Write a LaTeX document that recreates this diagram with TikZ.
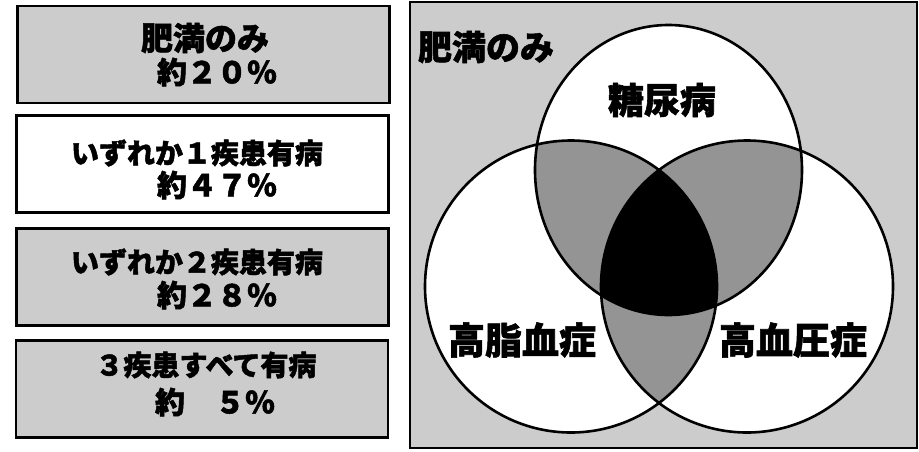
\documentclass[tikz,border=0pt]{standalone}
\usepackage{fontspec}
\newfontfamily\jp{Noto Sans CJK JP}[BoldFeatures={FakeBold=1.6}]
\tikzset{
  stipple/.style={fill=black!20},
  darkstipple/.style={fill=black!42},
  boxbase/.style={draw, line width=2.6pt, minimum width=372pt, minimum height=97pt, inner sep=0pt},
  graybox/.style={boxbase, stipple},
  whitebox/.style={boxbase, fill=white},
  boxtxt/.style={inner sep=0pt, font=\jp\bfseries\fontsize{28}{30}\selectfont},
  pcttxt/.style={inner sep=0pt, font=\jp\bfseries\fontsize{30}{32}\selectfont},
  venntxt/.style={inner sep=0pt, font=\jp\bfseries\fontsize{36}{38}\selectfont},
  ring/.style={draw, line width=2.6pt}
}
\begin{document}
\begin{tikzpicture}[x=1pt,y=-1pt]
\useasboundingbox (0,0) rectangle (919,451);
\fill[white] (0,0) rectangle (919,451);

% left boxes
\node[graybox]  (b1) at (203.5,54.5) {};
\node[whitebox] (b2) at (202.5,164) {};
\node[graybox]  (b3) at (202.5,277) {};
\node[graybox]  (b4) at (202,389) {};

\node[boxtxt, font=\jp\bfseries\fontsize{32}{34}\selectfont] (t1a) at (205,38) {肥満のみ};
\node[pcttxt] (t1b) at (217,72) {約２０％};
\node[boxtxt] (t2a) at (197,153) {いずれか１疾患有病};
\node[pcttxt] (t2b) at (217,185) {約４７％};
\node[boxtxt] (t3a) at (197,262) {いずれか２疾患有病};
\node[pcttxt] (t3b) at (217,295) {約２８％};
\node[boxtxt] (t4a) at (206,365) {３疾患すべて有病};
\node[pcttxt] (t4b) at (215,402) {約　５％};

% right panel
\node[draw, line width=2pt, stipple, minimum width=507pt, minimum height=446pt, inner sep=0pt] (panel) at (663.5,225) {};

\coordinate (cT) at (668.5,170);
\coordinate (cL) at (571,286.5);
\coordinate (cR) at (747,286.5);

\fill[white] (cT) ellipse [x radius=133.5pt, y radius=145pt];
\fill[white] (cL) circle [radius=146pt];
\fill[white] (cR) circle [radius=146pt];

\begin{scope}
  \clip (cT) ellipse [x radius=133.5pt, y radius=145pt];
  \fill[darkstipple] (cL) circle [radius=146pt];
  \fill[darkstipple] (cR) circle [radius=146pt];
\end{scope}
\begin{scope}
  \clip (cL) circle [radius=146pt];
  \fill[darkstipple] (cR) circle [radius=146pt];
\end{scope}
\begin{scope}
  \clip (cT) ellipse [x radius=133.5pt, y radius=145pt];
  \clip (cL) circle [radius=146pt];
  \fill[black] (cR) circle [radius=146pt];
\end{scope}

\draw[ring] (cT) ellipse [x radius=133.5pt, y radius=145pt];
\draw[ring] (cL) circle [radius=146pt];
\draw[ring] (cR) circle [radius=146pt];

\node[venntxt, font=\jp\bfseries\fontsize{34}{36}\selectfont] (lObese) at (486,47) {肥満のみ};
\node[venntxt] (lDM) at (662,100) {糖尿病};
\node[venntxt, font=\jp\bfseries\fontsize{37}{39}\selectfont] (lHL) at (522,340) {高脂血症};
\node[venntxt, font=\jp\bfseries\fontsize{37}{39}\selectfont] (lHT) at (793,340) {高血圧症};
\end{tikzpicture}
\end{document}
